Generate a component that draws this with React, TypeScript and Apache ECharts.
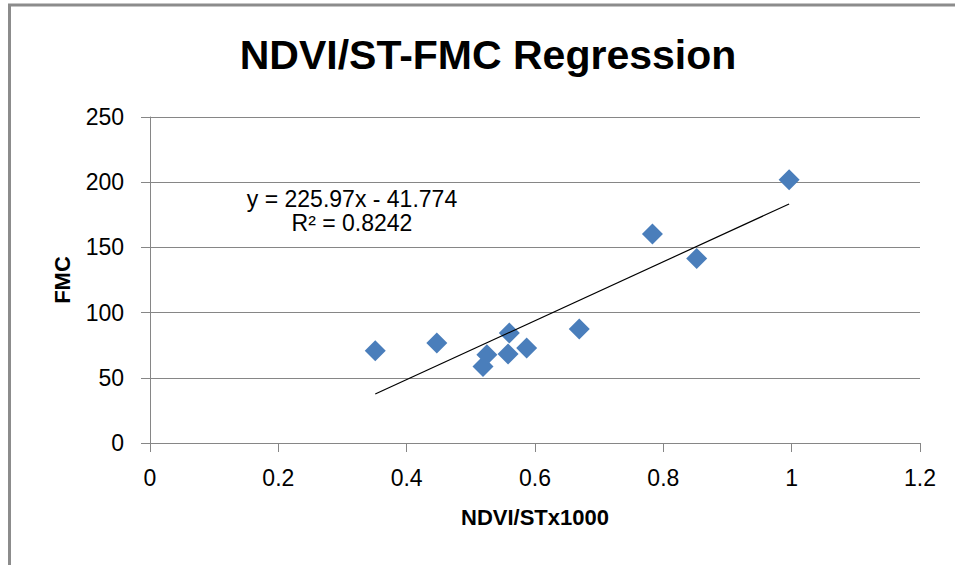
import { useEffect, useRef } from "react";
import * as echarts from "echarts";

const xValues = [0.351, 0.447, 0.525, 0.519, 0.56, 0.558, 0.587, 0.669, 0.783, 0.852, 0.996];
const yValues = [70.8, 76.7, 67.7, 58.7, 84.4, 68.2, 72.8, 87.5, 160.2, 141.5, 201.8];
const slope = 225.97;
const intercept = -41.774;
const equationText = "y = 225.97x - 41.774";
const r2Text = "R² = 0.8242";
const titleText = "NDVI/ST-FMC Regression";
const xAxisTitle = "NDVI/STx1000";
const yAxisTitle = "FMC";

const FONT = "'Liberation Sans', Arial, sans-serif";

export default function App() {
  const ref = useRef<HTMLDivElement>(null);
  useEffect(() => {
    document.body.style.margin = "0";
    const chart = echarts.init(ref.current!, null, { renderer: "svg" });
    const pts = xValues.map((x, i) => [x, yValues[i]]);
    const xmin = Math.min(...xValues);
    const xmax = Math.max(...xValues);
    const trend = [
      [xmin, slope * xmin + intercept],
      [xmax, slope * xmax + intercept],
    ];
    chart.setOption({
      animation: false,
      backgroundColor: "#ffffff",
      title: {
        text: titleText,
        left: 488,
        top: 34,
        textAlign: "center",
        padding: 0,
        textStyle: { fontFamily: FONT, fontSize: 41, fontWeight: "bold", color: "#000" },
      },
      grid: { left: 150, right: 35, top: 117, bottom: 122, containLabel: false },
      xAxis: {
        type: "value",
        min: 0,
        max: 1.2,
        interval: 0.2,
        name: xAxisTitle,
        nameLocation: "middle",
        nameGap: 63,
        nameTextStyle: { fontFamily: FONT, fontSize: 22, fontWeight: "bold", color: "#000" },
        axisLine: { show: true, onZero: false, lineStyle: { color: "#868686", width: 1 } },
        axisTick: { show: true, length: 9, inside: false, lineStyle: { color: "#868686" } },
        axisLabel: { margin: 23, fontFamily: FONT, fontSize: 23, color: "#000" },
        splitLine: { show: false },
      },
      yAxis: {
        type: "value",
        min: 0,
        max: 250,
        interval: 50,
        name: yAxisTitle,
        nameLocation: "middle",
        nameRotate: 90,
        nameGap: 77,
        nameTextStyle: { fontFamily: FONT, fontSize: 22, fontWeight: "bold", color: "#000" },
        axisLine: { show: true, lineStyle: { color: "#868686", width: 1 } },
        axisTick: { show: true, length: 9, inside: false, lineStyle: { color: "#868686" } },
        axisLabel: { margin: 26, fontFamily: FONT, fontSize: 23, color: "#000" },
        splitLine: { show: true, lineStyle: { color: "#868686", width: 1 } },
      },
      series: [
        {
          type: "line",
          data: trend,
          symbol: "none",
          lineStyle: { color: "#000", width: 1.2 },
          silent: true,
          z: 3,
        },
        {
          type: "scatter",
          data: pts,
          symbol: "diamond",
          symbolSize: 21,
          itemStyle: { color: "#4A7EBB", opacity: 1 },
          z: 2,
        },
      ],
      graphic: [
        {
          type: "rect",
          shape: { x: 9.5, y: 5, width: 1000, height: 600 },
          style: { fill: "none", stroke: "#8c8c8c", lineWidth: 3 },
          silent: true,
        },
        {
          type: "text",
          x: 352,
          y: 199,
          style: {
            text: equationText,
            font: `23px ${FONT}`,
            fill: "#000",
            textAlign: "center",
            textVerticalAlign: "middle",
          },
        },
        {
          type: "text",
          x: 352,
          y: 223,
          style: {
            text: r2Text,
            font: `23px ${FONT}`,
            fill: "#000",
            textAlign: "center",
            textVerticalAlign: "middle",
          },
        },
      ],
    });
    return () => chart.dispose();
  }, []);
  return (
    <div
      ref={ref}
      style={{ position: "fixed", left: 0, top: 0, width: 955, height: 565 }}
    />
  );
}
